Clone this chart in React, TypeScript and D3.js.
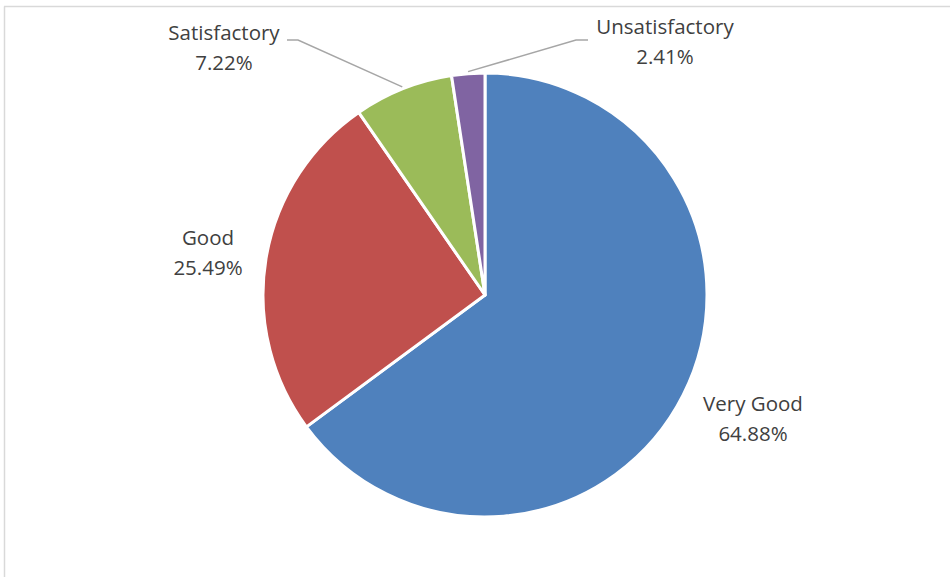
import React from "react";
import * as d3 from "d3";

const categories = ["Very Good", "Good", "Satisfactory", "Unsatisfactory"];
const values = [64.88, 25.49, 7.22, 2.41];
const labels = ["64.88%", "25.49%", "7.22%", "2.41%"];
const colors = ["#4F81BD", "#C0504D", "#9BBB59", "#8064A2"];

export default function App() {
  const W = 950, H = 577;
  const cx = 485, cy = 295, r = 222;
  const pie = d3.pie<number>().sort(null).value((d) => d)(values);
  const arc = d3.arc<d3.PieArcDatum<number>>().innerRadius(0).outerRadius(r);
  const labelPos: Record<string, { x: number; y: number }> = {
    "Very Good": { x: 753, y: 404 },
    Good: { x: 208, y: 238 },
    Satisfactory: { x: 224, y: 33 },
    Unsatisfactory: { x: 665, y: 27 },
  };
  const leaders: Record<string, [number, number][]> = {
    Satisfactory: [[287, 40], [298, 40]],
    Unsatisfactory: [[588, 40], [576, 40]],
  };
  return (
    <svg width={W} height={H} style={{ position: "absolute", left: 0, top: 0 }}>
      <rect x={0} y={0} width={W} height={H} fill="#fff" />
      <line x1={4.5} y1={6.5} x2={4.5} y2={H} stroke="#d9d9d9" strokeWidth={1.5} />
      <line x1={4} y1={6.5} x2={W} y2={6.5} stroke="#d9d9d9" strokeWidth={1.5} />
      <g transform={`translate(${cx},${cy})`}>
        {pie.map((p, i) => (
          <path key={i} d={arc(p) || ""} fill={colors[i]} stroke="#fff" strokeWidth={3} strokeLinejoin="round" />
        ))}
      </g>
      {pie.map((p, i) => {
        const name = categories[i];
        const lp = leaders[name];
        if (!lp) return null;
        const mid = (p.startAngle + p.endAngle) / 2;
        const ex = cx + Math.sin(mid) * (r + 2);
        const ey = cy - Math.cos(mid) * (r + 2);
        const pts = [...lp, [ex, ey]] as [number, number][];
        return (
          <polyline key={"l" + i} points={pts.map((q) => q.join(",")).join(" ")} fill="none" stroke="#a6a6a6" strokeWidth={1.5} />
        );
      })}
      {categories.map((c, i) => (
        <text key={"t" + i} textAnchor="middle" fontFamily="'Open Sans', 'Noto Sans', sans-serif" fontSize={20.5} fill="#404040">
          <tspan x={labelPos[c].x} y={labelPos[c].y + 7}>{c}</tspan>
          <tspan x={labelPos[c].x} y={labelPos[c].y + 37}>{labels[i]}</tspan>
        </text>
      ))}
    </svg>
  );
}
